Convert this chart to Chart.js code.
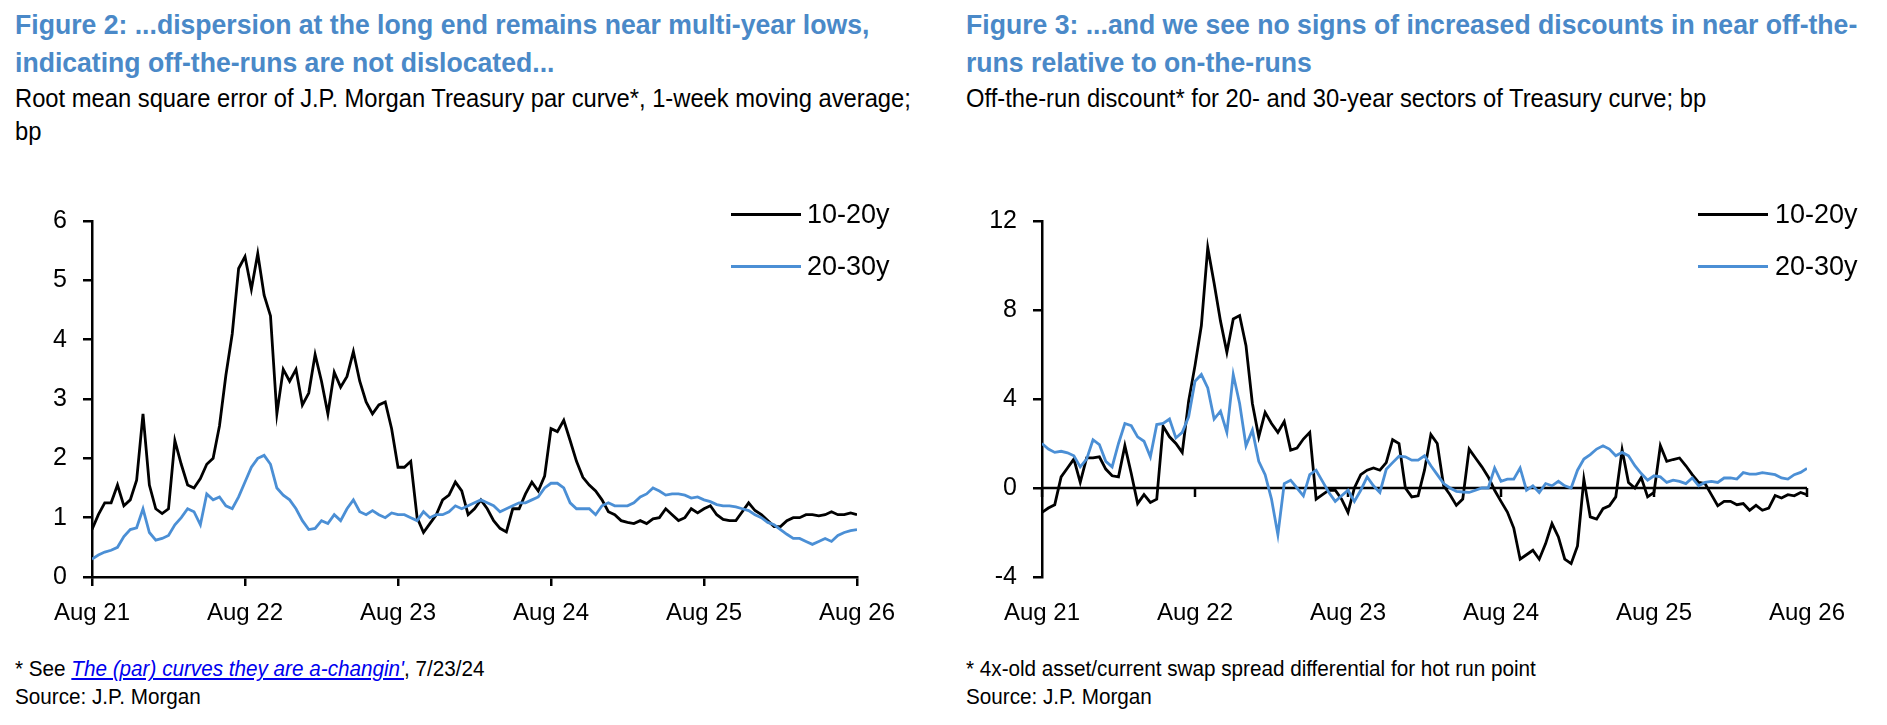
<!DOCTYPE html>
<html>
<head>
<meta charset="utf-8">
<script src="https://cdn.jsdelivr.net/npm/chart.js@4.4.1/dist/chart.umd.min.js"></script>
<style>
  body { margin: 0; background: #fff; width: 1887px; height: 725px; position: relative; overflow: hidden;
         font-family: 'Liberation Sans Narrow', 'Arial Narrow', 'Liberation Sans', Arial, sans-serif; color: #000; }
  .abs { position: absolute; white-space: nowrap; transform: scaleX(0.95); transform-origin: 0 0; }
  .title { font-weight: bold; font-size: 28px; line-height: 38px; color: #4a89c8; }
  .sub { font-size: 25px; line-height: 33px; }
  .note { font-size: 22px; line-height: 28px; transform: scaleX(0.94); }
  .note a { color: #0000ee; font-style: italic; text-decoration: underline; }
  .legline { position: absolute; height: 3px; }
  .legtext { position: absolute; font-size: 27px; line-height: 27px; }
  canvas { position: absolute; }
</style>
</head>
<body>

<div class="abs title" style="left:15px; top:6px;">Figure 2: ...dispersion at the long end remains near multi-year lows,<br>indicating off-the-runs are not dislocated...</div>
<div class="abs sub" style="left:15px; top:82px;">Root mean square error of J.P. Morgan Treasury par curve*, 1-week moving average;<br>bp</div>

<div class="abs title" style="left:966px; top:6px;">Figure 3: ...and we see no signs of increased discounts in near off-the-<br>runs relative to on-the-runs</div>
<div class="abs sub" style="left:966px; top:82px;">Off-the-run discount* for 20- and 30-year sectors of Treasury curve; bp</div>

<canvas id="chartLeft" width="950" height="450" style="left:0px; top:190px;"></canvas>
<canvas id="chartRight" width="937" height="450" style="left:950px; top:190px;"></canvas>

<div class="legline" style="left:731px; top:213px; width:70px; background:#000;"></div>
<div class="legtext" style="left:807px; top:201px;">10-20y</div>
<div class="legline" style="left:731px; top:265px; width:70px; background:#4b8fd5;"></div>
<div class="legtext" style="left:807px; top:253px;">20-30y</div>

<div class="legline" style="left:1698px; top:213px; width:70px; background:#000;"></div>
<div class="legtext" style="left:1775px; top:201px;">10-20y</div>
<div class="legline" style="left:1698px; top:265px; width:70px; background:#4b8fd5;"></div>
<div class="legtext" style="left:1775px; top:253px;">20-30y</div>

<div class="abs note" style="left:15px; top:655px;">* See <a>The (par) curves they are a-changin'</a>, 7/23/24<br>Source: J.P. Morgan</div>
<div class="abs note" style="left:966px; top:655px;">* 4x-old asset/current swap spread differential for hot run point<br>Source: J.P. Morgan</div>

<script>
  // --- Data (one value every half month, starting Aug 21) ---
  const monthStep = 0.5;
  const tickLabels = ["Aug 21", "Aug 22", "Aug 23", "Aug 24", "Aug 25", "Aug 26"];
  const seriesNames = ["10-20y", "20-30y"];

  // Figure 2: RMSE of par curve, bp
  const rmse1020 = [
    0.8, 1.05, 1.25, 1.25, 1.55, 1.2, 1.3, 1.63, 2.75, 1.55,
    1.15, 1.07, 1.15, 2.3, 1.9, 1.55, 1.5, 1.66, 1.9, 2.0,
    2.55, 3.4, 4.1, 5.2, 5.4, 4.85, 5.45, 4.75, 4.4, 2.75,
    3.5, 3.3, 3.5, 2.9, 3.1, 3.75, 3.3, 2.75, 3.45, 3.2,
    3.38, 3.8, 3.3, 2.95, 2.75, 2.9, 2.95, 2.5, 1.85, 1.85,
    1.95, 1.0, 0.75, 0.9, 1.05, 1.3, 1.38, 1.6, 1.45, 1.05,
    1.15, 1.3, 1.15, 0.95, 0.82, 0.76, 1.15, 1.15, 1.4, 1.6,
    1.45, 1.7, 2.5, 2.45, 2.64, 2.3, 1.95, 1.68, 1.55, 1.45,
    1.3, 1.1, 1.05, 0.95, 0.92, 0.9, 0.95, 0.9, 0.98, 1.0,
    1.15, 1.05, 0.95, 1.0, 1.15, 1.08, 1.15, 1.2, 1.05, 0.97,
    0.95, 0.95, 1.1, 1.25, 1.12, 1.05, 0.95, 0.85, 0.85, 0.95,
    1.0, 1.0, 1.05, 1.05, 1.03, 1.05, 1.1, 1.05, 1.05, 1.08, 1.05
  ];
  const rmse2030 = [
    0.3, 0.37, 0.42, 0.45, 0.5, 0.68, 0.8, 0.83, 1.15, 0.75,
    0.62, 0.65, 0.7, 0.88, 1.0, 1.15, 1.1, 0.88, 1.4, 1.3,
    1.35, 1.2, 1.15, 1.35, 1.6, 1.85, 2.0, 2.05, 1.9, 1.5,
    1.38, 1.3, 1.15, 0.95, 0.8, 0.82, 0.95, 0.9, 1.05, 0.95,
    1.15, 1.3, 1.1, 1.05, 1.12, 1.05, 1.0, 1.08, 1.05, 1.05,
    1.0, 0.95, 1.1, 1.0, 1.05, 1.05, 1.1, 1.2, 1.15, 1.2,
    1.25, 1.3, 1.25, 1.2, 1.1, 1.15, 1.2, 1.25, 1.25, 1.3,
    1.35, 1.5, 1.58, 1.58, 1.5, 1.25, 1.15, 1.15, 1.15, 1.05,
    1.2, 1.25, 1.2, 1.2, 1.2, 1.25, 1.35, 1.4, 1.5, 1.45,
    1.38, 1.4, 1.4, 1.38, 1.33, 1.35, 1.3, 1.27, 1.22, 1.2,
    1.2, 1.18, 1.15, 1.12, 1.05, 1.0, 0.92, 0.88, 0.8, 0.72,
    0.65, 0.65, 0.6, 0.55, 0.6, 0.65, 0.6, 0.7, 0.75, 0.78, 0.8
  ];

  // Figure 3: off-the-run discount, bp
  const disc1020 = [
    -1.1, -0.9, -0.75, 0.5, 0.9, 1.3, 0.25, 1.35, 1.35, 1.4,
    0.85, 0.55, 0.5, 1.9, 0.65, -0.7, -0.3, -0.65, -0.5, 2.77,
    2.3, 2.0, 1.6, 3.9, 5.5, 7.3, 10.8, 9.2, 7.5, 6.1,
    7.6, 7.75, 6.4, 3.8, 2.3, 3.4, 2.9, 2.5, 2.99, 1.7,
    1.8, 2.2, 2.5, -0.5, -0.3, -0.1, -0.1, -0.5, -1.1, 0.0,
    0.6, 0.8, 0.9, 0.8, 1.14, 2.17, 2.0, 0.0, -0.4, -0.35,
    0.8, 2.4, 2.0, 0.1, -0.3, -0.78, -0.5, 1.75, 1.35, 0.95,
    0.5, -0.1, -0.6, -1.08, -1.8, -3.2, -3.0, -2.8, -3.2, -2.5,
    -1.6, -2.2, -3.2, -3.4, -2.6, 0.4, -1.3, -1.4, -0.93, -0.8,
    -0.4, 1.72, 0.25, 0.0, 0.47, -0.4, -0.2, 1.9, 1.2, 1.28,
    1.35, 1.0, 0.6, 0.25, 0.2, -0.3, -0.8, -0.6, -0.6, -0.75,
    -0.7, -1.0, -0.78, -1.0, -0.9, -0.34, -0.45, -0.3, -0.35, -0.2, -0.3
  ];
  const disc2030 = [
    2.0, 1.75, 1.6, 1.65, 1.58, 1.45, 0.95, 1.3, 2.17, 1.95,
    1.2, 0.95, 2.0, 2.9, 2.8, 2.3, 2.1, 1.4, 2.85, 2.9,
    3.1, 2.25, 2.5, 3.2, 4.8, 5.1, 4.5, 3.1, 3.45, 2.5,
    5.1, 3.8, 1.9, 2.6, 1.2, 0.6, -0.5, -2.1, 0.2, 0.35,
    0.0, -0.35, 0.6, 0.8, 0.3, -0.2, -0.6, -0.35, -0.1, -0.6,
    -0.1, 0.5, 0.1, -0.2, 0.84, 1.14, 1.43, 1.4, 1.25, 1.25,
    1.45, 1.0, 0.6, 0.2, 0.0, -0.15, -0.18, -0.2, -0.1, 0.0,
    0.0, 0.9, 0.3, 0.4, 0.4, 0.9, -0.1, 0.1, -0.2, 0.2,
    0.1, 0.3, 0.1, 0.0, 0.8, 1.3, 1.5, 1.75, 1.9, 1.75,
    1.45, 1.6, 1.45, 1.0, 0.65, 0.35, 0.55, 0.5, 0.25, 0.35,
    0.3, 0.2, 0.45, 0.1, 0.25, 0.3, 0.25, 0.45, 0.45, 0.4,
    0.69, 0.62, 0.62, 0.69, 0.65, 0.6, 0.45, 0.4, 0.6, 0.7, 0.88
  ];

  // --- Styling ---
  const FONT = "'Liberation Sans Narrow', 'Arial Narrow', 'Liberation Sans', Arial, sans-serif";
  const BLACK = "#000000";
  const BLUE = "#4b8fd5";

  function toPoints(values) {
    return values.map((v, i) => ({ x: i * monthStep, y: v }));
  }

  // draws the y=0 axis line with the date tick marks (Figure 3)
  const zeroAxis = {
    id: "zeroAxis",
    beforeDatasetsDraw(chart) {
      const { ctx, chartArea, scales } = chart;
      const y0 = scales.y.getPixelForValue(0);
      ctx.save();
      ctx.strokeStyle = BLACK;
      ctx.lineWidth = 2.5;
      ctx.beginPath();
      ctx.moveTo(chartArea.left, y0);
      ctx.lineTo(chartArea.right, y0);
      scales.x.ticks.forEach(t => {
        const x = scales.x.getPixelForValue(t.value);
        ctx.moveTo(x, y0);
        ctx.lineTo(x, y0 + 9);
      });
      ctx.stroke();
      ctx.restore();
    }
  };

  function makeChart(id, black, blue, yMin, yMax, yStep, padRight, xAxisAtZero) {
    const ctx = document.getElementById(id).getContext("2d");
    return new Chart(ctx, {
      type: "line",
      data: {
        datasets: [
          { label: seriesNames[0], data: toPoints(black), borderColor: BLACK, borderWidth: 2.8, pointRadius: 0, tension: 0, order: 1 },
          { label: seriesNames[1], data: toPoints(blue), borderColor: BLUE, borderWidth: 2.8, pointRadius: 0, tension: 0, order: 0 }
        ]
      },
      options: {
        responsive: false,
        animation: false,
        layout: { padding: { top: 24, right: padRight, left: 0, bottom: 0 } },
        plugins: { legend: { display: false }, tooltip: { enabled: false } },
        scales: {
          x: {
            type: "linear",
            min: 0,
            max: 60,
            afterFit: s => { s.height = 63; },
            border: { display: !xAxisAtZero, color: BLACK, width: 2.5 },
            grid: { display: !xAxisAtZero, drawOnChartArea: false, drawTicks: true, tickLength: 9, color: BLACK, lineWidth: 2.5 },
            ticks: {
              stepSize: 12,
              autoSkip: false,
              maxRotation: 0,
              padding: 13,
              color: BLACK,
              font: { family: FONT, size: 24 },
              callback: v => tickLabels[Math.round(v / 12)]
            }
          },
          y: {
            min: yMin,
            max: yMax,
            afterFit: s => { s.width = 92; },
            border: { color: BLACK, width: 2.5 },
            grid: { drawOnChartArea: false, drawTicks: true, tickLength: 9, color: BLACK, lineWidth: 2.5 },
            ticks: { stepSize: yStep, padding: 16, color: BLACK, font: { family: FONT, size: 25 } }
          }
        }
      },
      plugins: xAxisAtZero ? [zeroAxis] : []
    });
  }

  makeChart("chartLeft", rmse1020, rmse2030, 0, 6, 1, 93, false);
  makeChart("chartRight", disc1020, disc2030, -4, 12, 4, 80, true);
</script>
</body>
</html>
